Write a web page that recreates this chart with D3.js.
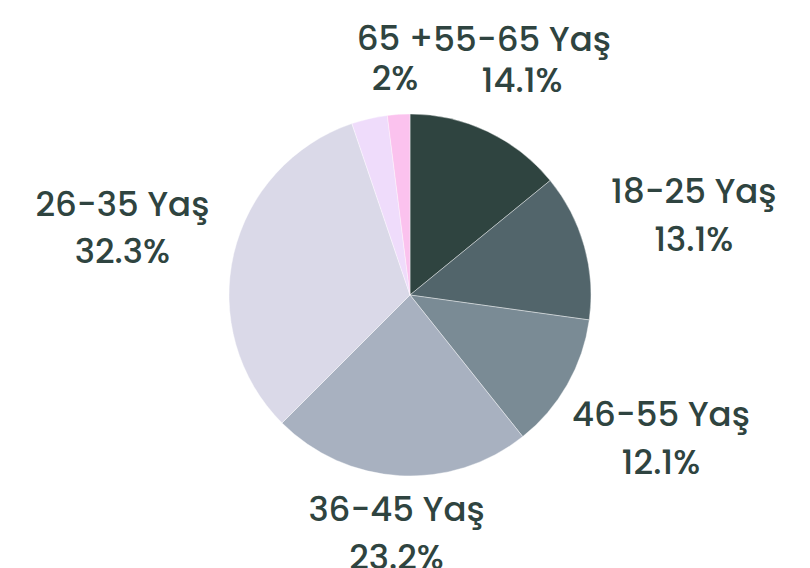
<!DOCTYPE html>
<html>
<head>
<meta charset="utf-8">
<script src="https://cdn.jsdelivr.net/npm/d3@7"></script>
<style>
  html, body { margin: 0; padding: 0; background: #fff; }
  svg text { font-family: Poppins, Inter, "Open Sans", sans-serif; font-weight: 500; fill: #2f4440; }
</style>
</head>
<body>
<svg id="chart" width="810" height="568"></svg>
<script>
// age groups, clockwise from 12 o'clock
const groups  = ['55-65 Yaş', '18-25 Yaş', '46-55 Yaş', '36-45 Yaş', '26-35 Yaş', '', '65 +'];
const shares  = [14.1, 13.1, 12.1, 23.2, 32.3, 3.2, 2];
const pctText = ['14.1%', '13.1%', '12.1%', '23.2%', '32.3%', '', '2%'];
const colors  = ['#2f4440', '#52656b', '#7a8b95', '#a8b1c0', '#dad9e8', '#efdcfb', '#fbc2ee'];

const W = 810, H = 568, cx = 410, cy = 295, R = 181;
const svg = d3.select('#chart');
const g = svg.append('g').attr('transform', `translate(${cx},${cy})`);

const data = groups.map((k, i) => ({ label: k, value: shares[i], pct: pctText[i], color: colors[i] }));
const pie = d3.pie().value(d => d.value).sort(null);
const arc = d3.arc().innerRadius(0).outerRadius(R);
const arcs = pie(data);

g.selectAll('path.slice').data(arcs).join('path')
  .attr('class', 'slice')
  .attr('d', arc)
  .attr('fill', d => d.data.color)
  .attr('stroke', '#fff').attr('stroke-width', 0.4);

// labels sit on the slice's mid-angle, pushed further out at the sides;
// the two labels at the top get a tighter line gap
const fs = 34;
const mid = d => (d.startAngle + d.endAngle) / 2;
const lbl = g.selectAll('g.lbl').data(arcs.filter(d => d.data.label)).join('g').attr('class', 'lbl')
  .attr('transform', d => {
    const a = mid(d);
    const r = 235 + 62 * Math.abs(Math.sin(a));
    return `translate(${r * Math.sin(a)},${-r * Math.cos(a)})`;
  });
lbl.append('text').attr('text-anchor', 'middle').style('font-size', fs + 'px')
  .attr('y', d => 36 - 48 + 7 * Math.pow(Math.max(0, Math.cos(mid(d))), 2) - 2 * Math.max(0, Math.cos(mid(d))))
  .text(d => d.data.label);
lbl.append('text').attr('text-anchor', 'middle').style('font-size', fs + 'px')
  .attr('y', d => 36 - 3 * Math.max(0, Math.cos(mid(d))))
  .text(d => d.data.pct);
</script>
</body>
</html>
